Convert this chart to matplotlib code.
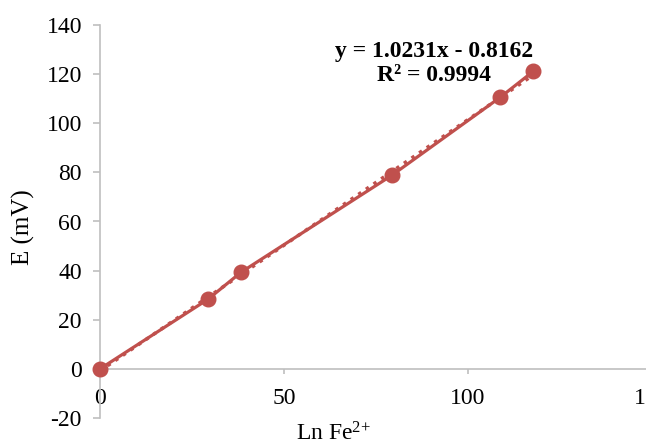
import matplotlib
matplotlib.use("Agg")
import matplotlib.pyplot as plt
import numpy as np

# values
ln_fe = [0, 29.3, 38.3, 79.3, 108.7, 117.7]
e_mv = [0, 28.3, 39.3, 78.8, 110.5, 121.1]
slope, intercept, r2 = 1.0231, -0.8162, 0.9994
x_ticks = [0, 50, 100, 150]
y_ticks = [-20, 0, 20, 40, 60, 80, 100, 120, 140]

red = '#C0504D'
gray = '#BFBFBF'

plt.rcParams['font.family'] = ['Liberation Serif', 'DejaVu Serif']
plt.rcParams['mathtext.fontset'] = 'custom'
plt.rcParams['mathtext.rm'] = 'Liberation Serif'
plt.rcParams['mathtext.it'] = 'Liberation Serif:italic'
plt.rcParams['axes.unicode_minus'] = False

fig = plt.figure(figsize=(6.46, 4.44), dpi=100)
# plot area runs a little past the right edge, like the cropped original
ax = fig.add_axes([100 / 646, 26 / 444, 552 / 646, 393 / 444])

# trendline (dotted) under the data line
xt = np.array([min(ln_fe), max(ln_fe)])
ax.plot(xt, slope * xt + intercept, linestyle=':', color=red, linewidth=2.5)
ax.plot(ln_fe, e_mv, color=red, linewidth=2.3, marker='o', markersize=10.5,
        clip_on=False, zorder=3)

ax.set_xlim(0, 150)
ax.set_ylim(-20, 140)
ax.set_xticks(x_ticks)
ax.set_yticks(y_ticks)

for s in ['top', 'right']:
    ax.spines[s].set_visible(False)
ax.spines['bottom'].set_position(('data', 0))
for s in ['bottom', 'left']:
    ax.spines[s].set_color(gray)
    ax.spines[s].set_linewidth(1.2)

ax.tick_params(axis='x', length=3.6, color=gray, width=1.2, pad=10, labelsize=17)
ax.tick_params(axis='y', length=5, color=gray, width=1.2, pad=8, labelsize=17)

ax.set_xlabel('Ln Fe$^{\\mathrm{2{+}}}$', fontsize=17)
ax.xaxis.set_label_coords(0.4226, -0.01)
ax.set_ylabel('E (mV)', fontsize=18)
ax.yaxis.set_label_coords(-0.118, 0.486)

ax.text(90.7, 124.4, f'y = {slope}x - {abs(intercept)}\nR² = {r2}',
        ha='center', va='center', fontsize=17, fontweight='bold',
        linespacing=1.15)

fig.savefig('out.png', dpi=100)
